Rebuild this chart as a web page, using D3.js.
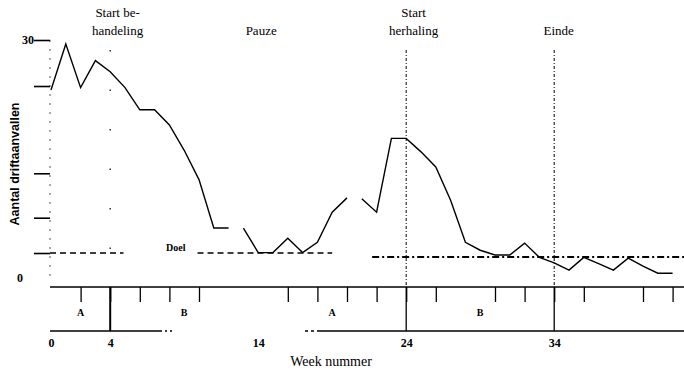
<!DOCTYPE html>
<html>
<head>
<meta charset="utf-8">
<script src="https://cdn.jsdelivr.net/npm/d3@7"></script>
<style>
body { margin: 0; background: #fff; }
svg text { font-family: "Liberation Serif", "DejaVu Serif", serif; fill: #000; }
</style>
</head>
<body>
<svg id="chart" width="684" height="374"></svg>
<script>
// weekly counts, split where the line has gaps
let seg1Start = 0;
let seg1Values = [23.7, 29.5, 24.0, 27.4, 26.0, 24.0, 21.2, 21.2, 19.3, 16.1, 12.4, 6.3, 6.3];
let seg2Start = 13;
let seg2Values = [6.3, 3.2, 3.2, 5.0, 3.2, 4.5, 8.3, 10.1];
let seg3Start = 21;
let seg3Values = [10.0, 8.3, 17.6, 17.6, 15.9, 14.0, 9.8, 4.5, 3.5, 2.9, 2.9, 4.4, 2.6, 1.9, 1.0, 2.6, 1.8, 1.0, 2.5, 1.5, 0.6, 0.6];

// goal line pieces [from week, to week, value]
let goalFrom = [0, 9.9, 21.7];
let goalTo = [4.9, 19, 42.8];
let goalValue = [3.15, 3.15, 2.65];

let phaseMarkers = [4, 24, 34];
let phaseTitles = [["Start be-", "handeling"], ["Pauze"], ["Start", "herhaling"], ["Einde"]];
let phaseTitleWeeks = [4.5, 14.2, 24.5, 34.3];
let phaseLetters = ["A", "B", "A", "B"];
let phaseLetterWeeks = [2, 9, 19, 29];
let weekTicks = [2, 4, 6, 8, 10, 16, 18, 20, 22, 24, 26, 30, 32, 34, 36, 40, 42];
let weekLabels = [0, 4, 14, 24, 34];
let yTicks = [30, 24.2, 13.2, 7.6, 3.15];

let svg = d3.select('#chart');
let x = d3.scaleLinear().domain([0, 42]).range([51, 672.6]);
let y = d3.scaleLinear().domain([0, 30]).range([278, 40]);

let upperAxisY = 287, lowerAxisY = 331;

// y axis
svg.append('line')
    .attr('x1', 50).attr('x2', 50)
    .attr('y1', y(30)).attr('y2', y(0))
    .attr('stroke', '#555').attr('stroke-width', 1)
    .attr('stroke-dasharray', '2,7');
let yAxis = svg.append('g')
    .attr('transform', 'translate(50,0)')
    .call(d3.axisLeft(y).tickValues(yTicks).tickSize(16)
        .tickFormat(function (d) { return d === 30 ? '30' : ''; }));
yAxis.select('.domain').remove();
yAxis.selectAll('line').attr('stroke', '#000').attr('stroke-width', 1.6);
yAxis.selectAll('text').attr('x', -22).attr('text-anchor', 'middle')
    .style('font-size', '12px').style('font-weight', 'bold');
svg.append('text')
    .attr('x', 20).attr('y', y(0) + 4)
    .attr('text-anchor', 'middle')
    .style('font-size', '12px').style('font-weight', 'bold')
    .text('0');
svg.append('text')
    .attr('transform', 'translate(19,164) rotate(-90)')
    .attr('text-anchor', 'middle')
    .style('font-family', '"Liberation Sans", Arial, sans-serif')
    .style('font-size', '12.5px').style('font-weight', 'bold')
    .text('Aantal driftaanvallen');

// phase marker lines
svg.selectAll('.marker')
    .data(phaseMarkers)
    .enter().append('line')
    .attr('class', 'marker')
    .attr('x1', function (d) { return x(d); })
    .attr('x2', function (d) { return x(d); })
    .attr('y1', 50).attr('y2', upperAxisY)
    .attr('stroke', '#000')
    .attr('stroke-width', function (d) { return d === 4 ? 1.2 : 1; })
    .attr('stroke-dasharray', function (d) { return d === 4 ? '1.5,38' : '3,2,1,2'; });

// titles above the chart
phaseTitles.forEach(function (lines, i) {
    let t = svg.append('text')
        .attr('x', x(phaseTitleWeeks[i]))
        .attr('text-anchor', 'middle')
        .style('font-size', '13px');
    lines.forEach(function (line, j) {
        t.append('tspan')
            .attr('x', x(phaseTitleWeeks[i]))
            .attr('y', lines.length === 2 ? 17 + j * 18 : 35)
            .text(line);
    });
});

// goal lines
svg.selectAll('.goal')
    .data(goalValue)
    .enter().append('line')
    .attr('class', 'goal')
    .attr('x1', function (d, i) { return i === 0 ? 50 : x(goalFrom[i]); })
    .attr('x2', function (d, i) { return x(goalTo[i]); })
    .attr('y1', function (d) { return y(d); })
    .attr('y2', function (d) { return y(d); })
    .attr('stroke', '#000')
    .attr('stroke-width', function (d, i) { return i === 2 ? 1.8 : 1.3; })
    .attr('stroke-dasharray', function (d, i) { return i === 2 ? '7,3,2,3' : '6,4'; });
svg.append('text')
    .attr('x', 166).attr('y', y(goalValue[0]) - 2)
    .style('font-size', '10px').style('font-weight', 'bold')
    .text('Doel');

// data line
let line = d3.line()
    .x(function (d) { return x(d.week); })
    .y(function (d) { return y(d.value); });
[[seg1Start, seg1Values], [seg2Start, seg2Values], [seg3Start, seg3Values]].forEach(function (seg) {
    let pts = seg[1].map(function (v, i) { return { week: seg[0] + i, value: v }; });
    svg.append('path')
        .datum(pts)
        .attr('d', line)
        .attr('fill', 'none')
        .attr('stroke', '#000')
        .attr('stroke-width', 1.4);
});

// upper week axis with short ticks
let upper = svg.append('g')
    .attr('transform', 'translate(0,' + upperAxisY + ')')
    .call(d3.axisBottom(x).tickValues(weekTicks).tickSize(15).tickFormat(''));
upper.select('.domain').remove();
upper.selectAll('line').attr('stroke', '#000').attr('stroke-width', 1.3);
svg.append('line')
    .attr('x1', 50).attr('x2', 684)
    .attr('y1', upperAxisY).attr('y2', upperAxisY)
    .attr('stroke', '#000').attr('stroke-width', 1.3);

// long phase ticks
svg.selectAll('.longtick')
    .data(phaseMarkers)
    .enter().append('line')
    .attr('x1', function (d) { return x(d); })
    .attr('x2', function (d) { return x(d); })
    .attr('y1', upperAxisY).attr('y2', lowerAxisY)
    .attr('stroke', '#000')
    .attr('stroke-width', function (d) { return d === 4 ? 2 : 1.3; });

// phase letters
svg.selectAll('.phase')
    .data(phaseLetters)
    .enter().append('text')
    .attr('x', function (d, i) { return x(phaseLetterWeeks[i]); })
    .attr('y', 316)
    .attr('text-anchor', 'middle')
    .style('font-size', '10px').style('font-weight', 'bold')
    .text(function (d) { return d; });

// lower axis
svg.append('line')
    .attr('x1', 50).attr('x2', 160)
    .attr('y1', lowerAxisY).attr('y2', lowerAxisY)
    .attr('stroke', '#000').attr('stroke-width', 1.6);
svg.append('line')
    .attr('x1', 160).attr('x2', 172)
    .attr('y1', lowerAxisY).attr('y2', lowerAxisY)
    .attr('stroke', '#000').attr('stroke-width', 1.3)
    .attr('stroke-dasharray', '2,3');
svg.append('line')
    .attr('x1', 305).attr('x2', 320)
    .attr('y1', lowerAxisY).attr('y2', lowerAxisY)
    .attr('stroke', '#000').attr('stroke-width', 1.3)
    .attr('stroke-dasharray', '3,3');
svg.append('line')
    .attr('x1', 320).attr('x2', 684)
    .attr('y1', lowerAxisY).attr('y2', lowerAxisY)
    .attr('stroke', '#000').attr('stroke-width', 1.3);
let lower = svg.append('g')
    .attr('transform', 'translate(0,' + lowerAxisY + ')')
    .call(d3.axisBottom(x).tickValues(weekLabels).tickSize(0).tickPadding(7));
lower.select('.domain').remove();
lower.selectAll('text')
    .style('font-family', '"Liberation Serif", serif')
    .style('font-size', '12px').style('font-weight', 'bold');
svg.append('text')
    .attr('x', 331).attr('y', 366)
    .attr('text-anchor', 'middle')
    .style('font-size', '14px')
    .text('Week nummer');
</script>
</body>
</html>
